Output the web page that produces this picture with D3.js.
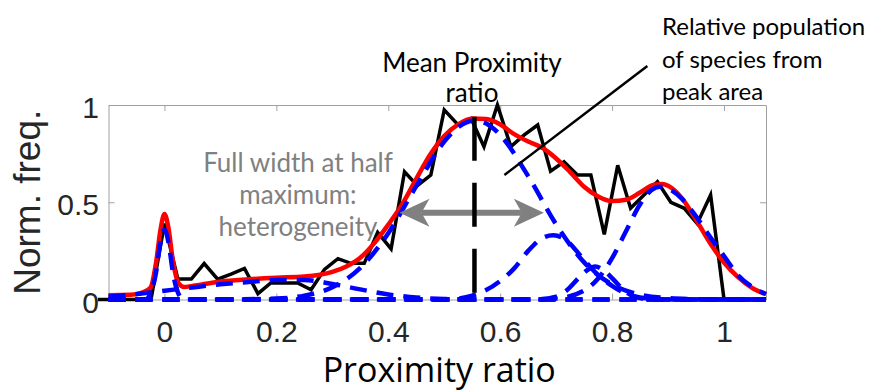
<!DOCTYPE html>
<html>
<head>
<meta charset="utf-8">
<script src="https://cdn.jsdelivr.net/npm/d3@7"></script>
<style>
  body { margin: 0; background: #fff; }
  svg { display: block; }
</style>
</head>
<body>
<div id="chart"></div>
<script>
// Histogram of proximity ratio (bin centres and normalised counts)
const histX = [-0.119, -0.095, -0.071, -0.048, -0.024, 0, 0.024, 0.048, 0.071, 0.095,
  0.119, 0.143, 0.167, 0.19, 0.214, 0.238, 0.262, 0.286, 0.31, 0.333,
  0.357, 0.381, 0.405, 0.429, 0.452, 0.476, 0.5, 0.524, 0.548, 0.571,
  0.595, 0.619, 0.643, 0.667, 0.69, 0.714, 0.738, 0.762, 0.786, 0.81,
  0.833, 0.857, 0.881, 0.905, 0.929, 0.952, 0.976, 1.0, 1.024, 1.048, 1.071];
const histY = [0, 0, 0, 0, 0, 0.39, 0.105, 0.105, 0.185, 0.105,
  0.13, 0.16, 0.03, 0.085, 0.085, 0.085, 0.05, 0.155, 0.21, 0.186,
  0.186, 0.345, 0.26, 0.657, 0.585, 0.64, 0.975, 0.9, 0.93, 0.786,
  1.0, 0.786, 0.846, 0.897, 0.66, 0.708, 0.64, 0.64, 0.335, 0.69,
  0.469, 0.537, 0.605, 0.5, 0.469, 0.39, 0.537, 0, 0, 0, 0];

// Total fit (red)
const fitX = [-0.1, -0.06, -0.04, -0.025, -0.015, -0.007, 0, 0.007, 0.015, 0.025,
  0.035, 0.05, 0.1, 0.15, 0.2, 0.25, 0.3, 0.325, 0.35, 0.375,
  0.4, 0.425, 0.45, 0.475, 0.5, 0.525, 0.55, 0.575, 0.6, 0.625,
  0.65, 0.675, 0.7, 0.725, 0.75, 0.775, 0.8, 0.825, 0.85, 0.875,
  0.89, 0.9, 0.925, 0.95, 0.975, 1.0, 1.025, 1.05, 1.075];
const fitY = [0.022, 0.024, 0.035, 0.06, 0.19, 0.36, 0.44, 0.37, 0.2, 0.085,
  0.064, 0.07, 0.093, 0.104, 0.112, 0.118, 0.142, 0.17, 0.215, 0.29,
  0.385, 0.49, 0.62, 0.745, 0.84, 0.9, 0.93, 0.928, 0.9, 0.85,
  0.812, 0.78, 0.725, 0.655, 0.58, 0.53, 0.506, 0.513, 0.55, 0.59,
  0.594, 0.585, 0.52, 0.41, 0.29, 0.19, 0.115, 0.06, 0.027];

// Individual species components (blue dashed)
const peakAX = [-0.1, -0.035, -0.025, -0.015, -0.008, 0, 0.008, 0.015, 0.025, 0.035, 1.075];
const peakAY = [0, 0, 0.03, 0.14, 0.28, 0.36, 0.28, 0.14, 0.03, 0, 0];

const peakBX = [-0.1, -0.05, 0, 0.05, 0.1, 0.15, 0.2, 0.25, 0.3, 0.35, 0.4, 0.45, 0.5, 0.6, 1.075];
const peakBY = [0.015, 0.028, 0.045, 0.062, 0.078, 0.09, 0.1, 0.1, 0.08, 0.052, 0.026, 0.01, 0.003, 0, 0];

const peakCX = [-0.1, 0.1, 0.2, 0.25, 0.3, 0.35, 0.4, 0.45, 0.5, 0.525, 0.555, 0.575, 0.6,
  0.65, 0.7, 0.75, 0.8, 0.85, 0.9, 0.95, 1.0, 1.075];
const peakCY = [0, 0, 0.005, 0.02, 0.063, 0.162, 0.341, 0.583, 0.812, 0.886, 0.92, 0.905, 0.846,
  0.634, 0.386, 0.191, 0.077, 0.025, 0.007, 0.002, 0, 0];

const peakDX = [-0.1, 0.5, 0.55, 0.6, 0.625, 0.65, 0.675, 0.695, 0.72, 0.745, 0.77, 0.8, 0.825, 0.85, 0.9, 1.075];
const peakDY = [0, 0, 0.02, 0.095, 0.16, 0.25, 0.315, 0.33, 0.3, 0.22, 0.14, 0.07, 0.03, 0.01, 0, 0];

const peakEX = [-0.1, 0.66, 0.7, 0.72, 0.74, 0.755, 0.77, 0.785, 0.8, 0.82, 0.84, 0.87, 1.075];
const peakEY = [0, 0, 0.015, 0.05, 0.11, 0.15, 0.17, 0.15, 0.11, 0.05, 0.015, 0, 0];

const peakFX = [-0.1, 0.65, 0.7, 0.75, 0.775, 0.8, 0.825, 0.85, 0.87, 0.885, 0.9,
  0.925, 0.95, 0.975, 1.0, 1.025, 1.05, 1.075];
const peakFY = [0, 0, 0.005, 0.046, 0.108, 0.213, 0.352, 0.49, 0.562, 0.58, 0.57,
  0.517, 0.427, 0.322, 0.223, 0.125, 0.065, 0.028];

const xTicks = [0, 0.2, 0.4, 0.6, 0.8, 1];
const xTickLabels = ["0", "0.2", "0.4", "0.6", "0.8", "1"];
const yTicks = [0, 0.5, 1];
const yTickLabels = ["0", "0.5", "1"];

// Annotated quantities
const meanRatio = 0.554;
const meanTop = 0.94;
const fwhm = { left: 0.42, right: 0.678, level: 0.446 };
const pointer = { x1: 0.6075, y1: 0.64, x2: 0.863, y2: 1.2 };

const CONFIG = {
  width: 880,
  height: 392,
  plot: { left: 108.5, right: 766, top: 105, bottom: 299.5 },
  xDomain: [-0.1, 1.075],
  tickLen: 6,
};

const COLORS = {
  hist: "#000000",
  fit: "#ff0000",
  peak: "#0000ff",
  box: "#a0a0a0",
  tickText: "#262626",
  note: "#000000",
  fwhm: "#808080",
};

const NOTE_FONT = "Lato, 'Open Sans', sans-serif";
const LABEL_FONT = "'Open Sans', Lato, sans-serif";
const AXIS_FONT = "'Liberation Sans', Arial, sans-serif";

function render() {
  const P = CONFIG.plot;
  const svg = d3
    .select("#chart")
    .append("svg")
    .attr("width", CONFIG.width)
    .attr("height", CONFIG.height);

  const x = d3.scaleLinear().domain(CONFIG.xDomain).range([P.left, P.right]);
  const y = d3.scaleLinear().domain([0, 1]).range([P.bottom, P.top]);

  // Box with inward ticks on all four sides
  const styleAxis = (g) => {
    g.select(".domain").attr("stroke", COLORS.box).attr("stroke-width", 1);
    g.selectAll(".tick line").attr("stroke", COLORS.box);
    g.selectAll(".tick text")
      .attr("fill", COLORS.tickText)
      .style("font-family", AXIS_FONT)
      .style("font-size", "30px");
  };

  svg.append("g")
    .attr("transform", `translate(0,${P.bottom})`)
    .call(d3.axisBottom(x).tickValues(xTicks).tickSizeInner(-CONFIG.tickLen)
      .tickSizeOuter(0).tickPadding(21).tickFormat((d, i) => xTickLabels[i]))
    .call(styleAxis);

  svg.append("g")
    .attr("transform", `translate(0,${P.top})`)
    .call(d3.axisTop(x).tickValues(xTicks).tickSizeInner(-CONFIG.tickLen)
      .tickSizeOuter(0).tickFormat(""))
    .call(styleAxis);

  svg.append("g")
    .attr("transform", `translate(${P.left},0)`)
    .call(d3.axisLeft(y).tickValues(yTicks).tickSizeInner(-CONFIG.tickLen)
      .tickSizeOuter(0).tickPadding(9.5).tickFormat((d, i) => yTickLabels[i]))
    .call(styleAxis)
    .call((g) => g.selectAll(".tick text").attr("dy", "0.42em"));

  svg.append("g")
    .attr("transform", `translate(${P.right},0)`)
    .call(d3.axisRight(y).tickValues(yTicks).tickSizeInner(-CONFIG.tickLen)
      .tickSizeOuter(0).tickFormat(""))
    .call(styleAxis);

  // Axis titles
  svg.append("text")
    .attr("x", (P.left + P.right) / 2 + 2)
    .attr("y", 382)
    .attr("text-anchor", "middle")
    .attr("fill", COLORS.note)
    .style("font-family", LABEL_FONT)
    .style("font-size", "34px")
    .text("Proximity ratio");

  svg.append("text")
    .attr("transform", `translate(40,${(P.top + P.bottom) / 2}) rotate(-90)`)
    .attr("text-anchor", "middle")
    .attr("fill", COLORS.tickText)
    .style("font-family", AXIS_FONT)
    .style("font-size", "37px")
    .text("Norm. freq.");

  // FWHM note (behind the curves)
  const fwhmNote = svg.append("text")
    .attr("text-anchor", "middle")
    .attr("fill", COLORS.fwhm)
    .style("font-family", NOTE_FONT)
    .style("font-size", "26px");
  ["Full width at half", "maximum:", "heterogeneity"].forEach((line, i) => {
    fwhmNote.append("tspan").attr("x", 298).attr("y", 172 + i * 32).text(line);
  });

  const line = (xs) => d3.line()
    .x((d, i) => x(xs[i]))
    .y((d) => y(d));

  // Histogram
  svg.append("path")
    .datum(histY)
    .attr("d", line(histX))
    .attr("fill", "none")
    .attr("stroke", COLORS.hist)
    .attr("stroke-width", 3.5);

  // Total fit
  svg.append("path")
    .datum(fitY)
    .attr("d", line(fitX).curve(d3.curveMonotoneX))
    .attr("fill", "none")
    .attr("stroke", COLORS.fit)
    .attr("stroke-width", 4.5);

  // Components
  [
    [peakAX, peakAY],
    [peakBX, peakBY],
    [peakCX, peakCY],
    [peakDX, peakDY],
    [peakEX, peakEY],
    [peakFX, peakFY],
  ].forEach(([xs, ys]) => {
    svg.append("path")
      .datum(ys)
      .attr("d", line(xs).curve(d3.curveMonotoneX))
      .attr("fill", "none")
      .attr("stroke", COLORS.peak)
      .attr("stroke-width", 4.5)
      .attr("stroke-dasharray", "17,10");
  });

  // FWHM double arrow
  const ay = y(fwhm.level);
  const headL = 30, headW = 14, notch = 22;
  const xl = x(fwhm.left), xr = x(fwhm.right);
  svg.append("line")
    .attr("x1", xl + notch).attr("x2", xr - notch)
    .attr("y1", ay).attr("y2", ay)
    .attr("stroke", COLORS.fwhm)
    .attr("stroke-width", 6);
  [[xl, 1], [xr, -1]].forEach(([tip, dir]) => {
    svg.append("path")
      .attr("d", `M${tip},${ay} L${tip + dir * headL},${ay - headW} L${tip + dir * notch},${ay} L${tip + dir * headL},${ay + headW} Z`)
      .attr("fill", COLORS.fwhm);
  });

  // Mean proximity ratio marker
  svg.append("line")
    .attr("x1", x(meanRatio)).attr("x2", x(meanRatio))
    .attr("y1", y(meanTop)).attr("y2", y(0))
    .attr("stroke", "#000")
    .attr("stroke-width", 4.5)
    .attr("stroke-dasharray", "44,22");

  // Pointer to peak area
  svg.append("line")
    .attr("x1", x(pointer.x1)).attr("y1", y(pointer.y1))
    .attr("x2", x(pointer.x2)).attr("y2", y(pointer.y2))
    .attr("stroke", "#000")
    .attr("stroke-width", 2.5);

  // Notes above the plot
  const meanNote = svg.append("text")
    .attr("text-anchor", "middle")
    .attr("fill", COLORS.note)
    .style("font-family", NOTE_FONT)
    .style("font-size", "26px");
  ["Mean Proximity", "ratio"].forEach((t, i) => {
    meanNote.append("tspan").attr("x", 472).attr("y", 72 + i * 30).text(t);
  });

  const popNote = svg.append("text")
    .attr("fill", COLORS.note)
    .style("font-family", NOTE_FONT)
    .style("font-size", "24px");
  ["Relative population", "of species from", "peak area"].forEach((t, i) => {
    popNote.append("tspan").attr("x", 662).attr("y", 35 + i * 32.5).text(t);
  });
}

render();
</script>
</body>
</html>
